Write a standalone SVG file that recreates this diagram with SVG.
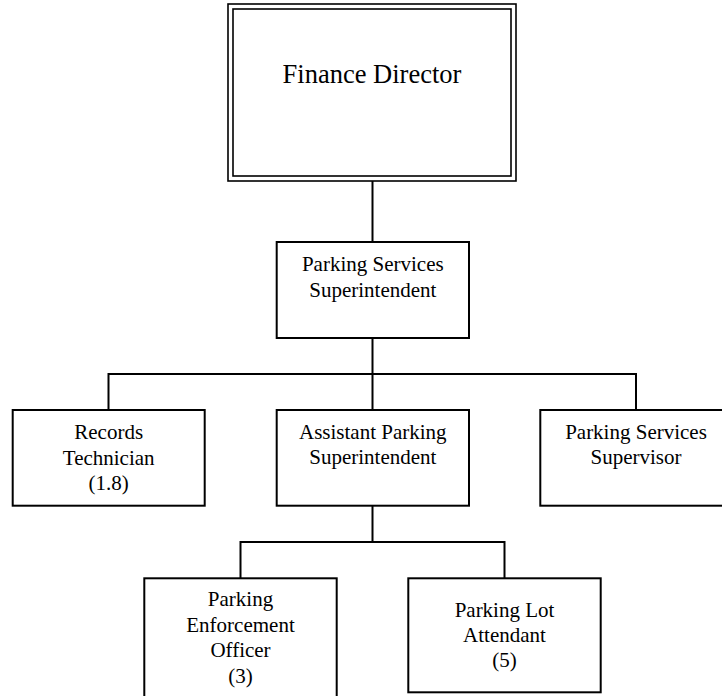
<svg xmlns="http://www.w3.org/2000/svg" width="722" height="696" viewBox="0 0 722 696">
<style>
.box{fill:#fff;stroke:#000;stroke-width:2}
.dbl{fill:none;stroke:#000;stroke-width:1.6}
.conn{fill:none;stroke:#000;stroke-width:2}
text{font-family:'Liberation Serif','Times New Roman',Times,serif;font-size:21px;fill:#000;text-anchor:middle}
.big{font-size:26.5px}
</style>
<rect width="722" height="696" fill="#fff"/>
<g id="connectors">
<path class="conn" d="M372.5,181 V242"/>
<path class="conn" d="M372.5,338 V374 M108.5,410 V374 H636 V410 M372.5,374 V410"/>
<path class="conn" d="M372.5,506 V542 M240.5,578 V542 H504.5 V578"/>
</g>
<g id="finance-director" font-family="Liberation Serif, serif">
<rect class="dbl" x="228" y="4" width="288" height="177"/>
<rect class="dbl" x="233" y="9" width="278" height="167"/>
<text class="big" x="372" y="82.5">Finance Director</text>
</g>
<g id="parking-services-superintendent">
<rect class="box" x="276.7" y="242" width="192.3" height="96"/>
<text x="372.8" y="270.7">Parking Services</text>
<text x="372.8" y="296.7">Superintendent</text>
</g>
<g id="records-technician">
<rect class="box" x="12.7" y="410" width="192" height="95.7"/>
<text x="108.7" y="439">Records</text>
<text x="108.7" y="464.5">Technician</text>
<text x="108.7" y="490">(1.8)</text>
</g>
<g id="assistant-parking-superintendent">
<rect class="box" x="276.7" y="410" width="192.3" height="95.7"/>
<text x="372.8" y="438.5">Assistant Parking</text>
<text x="372.8" y="463.5">Superintendent</text>
</g>
<g id="parking-services-supervisor">
<rect class="box" x="540.3" y="410" width="192" height="95.7"/>
<text x="636" y="439">Parking Services</text>
<text x="636" y="463.5">Supervisor</text>
</g>
<g id="parking-enforcement-officer">
<rect class="box" x="144.3" y="578.3" width="192.4" height="130"/>
<text x="240.5" y="606">Parking</text>
<text x="240.5" y="631.5">Enforcement</text>
<text x="240.5" y="657">Officer</text>
<text x="240.5" y="682.5">(3)</text>
</g>
<g id="parking-lot-attendant">
<rect class="box" x="408.3" y="578.3" width="192.4" height="114"/>
<text x="504.5" y="616.7">Parking Lot</text>
<text x="504.5" y="641.7">Attendant</text>
<text x="504.5" y="667">(5)</text>
</g>
</svg>
